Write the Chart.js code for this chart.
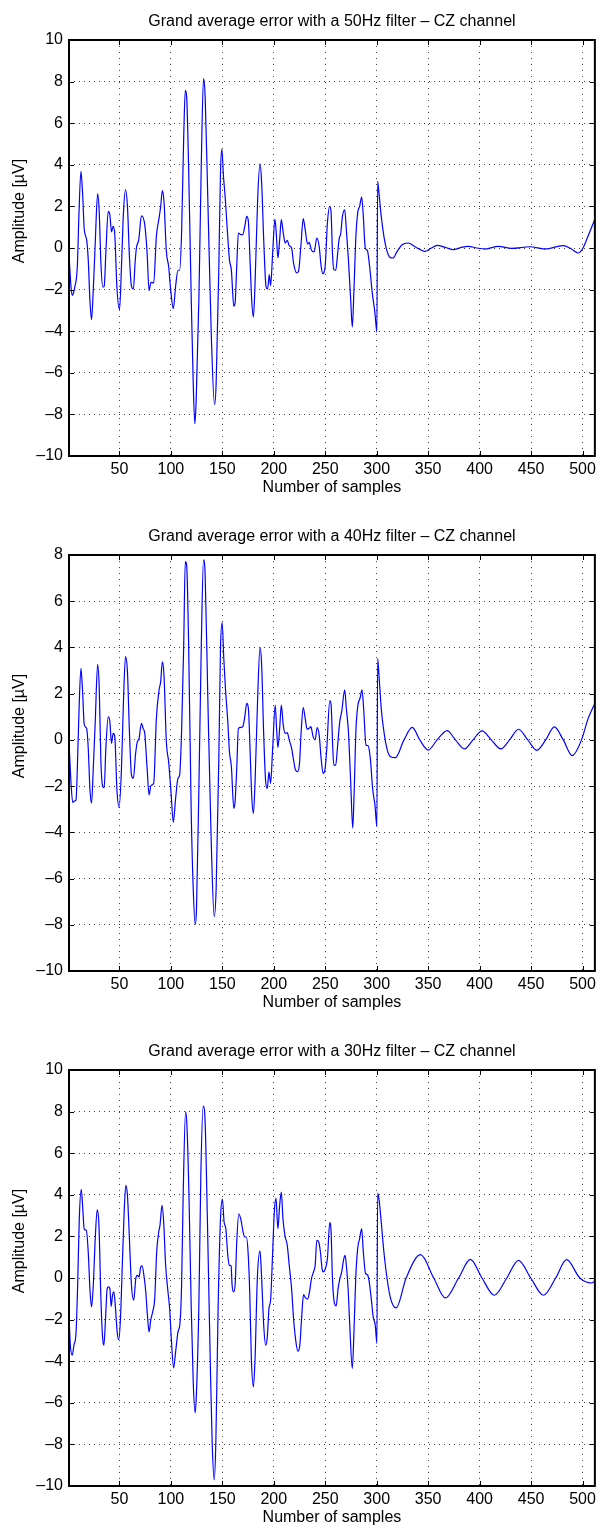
<!DOCTYPE html>
<html><head><meta charset="utf-8">
<script src="https://cdn.jsdelivr.net/npm/chart.js@4.4.1/dist/chart.umd.min.js"></script>
<style>
html,body{margin:0;padding:0;background:#fff;overflow:hidden;}
body{width:600px;height:1528px;position:relative;}
canvas{position:absolute;left:0;}
</style></head><body>
<canvas id="c1" width="600" height="498" style="top:0px"></canvas>
<canvas id="c2" width="600" height="498" style="top:515px"></canvas>
<canvas id="c3" width="600" height="498" style="top:1030px"></canvas>
<script>
// ---- data ----
const xTicks = [50,100,150,200,250,300,350,400,450,500];
const yTicksA = [-10,-8,-6,-4,-2,0,2,4,6,8,10];
const yTicksB = [-10,-8,-6,-4,-2,0,2,4,6,8];
const titles = [
  'Grand average error with a 50Hz filter \u2013 CZ channel',
  'Grand average error with a 40Hz filter \u2013 CZ channel',
  'Grand average error with a 30Hz filter \u2013 CZ channel'
];
const xLabel = 'Number of samples';
const yLabel = 'Amplitude [\u00b5V]';

// [sample, amplitude]
const cz50 = [[1,-0.3],[2.9,-1.84],[4.2,-2.28],[5.8,-2.08],[6.5,-1.92],[9.1,-0.88],[10.7,1.68],[12.6,3.69],[14.2,2.64],[15.8,0.91],[18.1,0.40],[19.7,-0.56],[21.3,-2.48],[22.9,-3.45],[24.6,-2.0],[26.5,0.24],[28.8,2.61],[30.4,1.68],[32.0,-0.72],[33.9,-1.88],[35.2,-1.84],[36.8,-0.24],[39.1,1.76],[40.7,1.6],[42.3,0.77],[43.9,1.04],[45.5,0.64],[47.5,-1.84],[50.1,-2.96],[52.0,-0.88],[53.9,1.68],[55.9,2.80],[57.8,2.0],[59.7,-0.40],[61.7,-1.84],[63.6,-1.97],[65.2,-0.72],[66.5,0.0],[68.8,0.40],[71.4,1.55],[74.6,1.12],[76.9,-0.24],[78.8,-2.05],[80.7,-1.65],[83.3,-1.68],[85.9,0.56],[88.5,1.44],[90.1,2.0],[91.7,2.76],[93.3,2.24],[95.6,-0.16],[97.8,-0.88],[100.1,-2.16],[102.4,-2.92],[104.6,-1.84],[106.9,-1.07],[108.5,-1.07],[110.4,0.72],[112.4,5.21],[114.0,7.58],[115.3,7.29],[117.2,3.93],[119.8,-2.48],[121.7,-6.49],[123.3,-8.45],[124.6,-7.29],[127.2,-2.48],[129.5,3.93],[131.7,8.14],[133.3,7.29],[135.9,2.32],[139.2,-4.09],[142.4,-7.53],[144.0,-6.49],[146.6,-0.88],[148.2,3.61],[149.5,4.76],[151.1,3.45],[152.7,2.48],[154.6,1.04],[156.9,-0.56],[158.8,-1.07],[161.1,-2.80],[162.4,-2.64],[164.0,-0.88],[165.6,0.72],[168.2,0.64],[169.8,0.64],[172.1,1.12],[173.7,1.52],[175.3,1.28],[176.9,-0.56],[178.5,-2.48],[180.2,-3.32],[181.8,-1.68],[184.3,2.32],[186.6,4.04],[188.2,3.13],[190.2,0.40],[192.4,-1.84],[194.0,-1.97],[195.6,-1.28],[196.9,-1.81],[198.9,-0.24],[201.1,1.39],[202.4,0.72],[204.0,-0.48],[205.7,0.40],[207.3,1.36],[209.2,0.72],[211.1,0.24],[213.1,0.37],[215.0,0.11],[217.3,0.0],[219.2,-0.72],[222.1,-1.20],[224.0,-1.12],[226.3,0.08],[228.6,1.41],[230.5,0.88],[232.8,0.19],[234.4,0.27],[236.6,-0.11],[239.2,-0.19],[241.8,0.48],[244.1,0.08],[246.0,-0.88],[247.6,-1.23],[249.9,-0.88],[252.1,1.2],[254.4,2.0],[255.7,1.68],[257.0,-0.24],[258.3,-1.04],[260.2,-1.07],[261.8,-0.4],[263.4,0.4],[265.1,0.72],[266.7,1.52],[268.9,1.84],[270.5,0.88],[272.5,-0.56],[274.7,-2.48],[276.3,-3.80],[277.9,-2.0],[279.6,0.40],[281.5,1.68],[283.4,2.0],[285.4,2.45],[287.0,1.52],[288.9,0.0],[290.9,-0.11],[293.1,-0.88],[295.7,-2.16],[298.3,-3.13],[300.2,-4.05],[300.9,3.21],[302.2,2.64],[304.4,1.52],[307.0,0.56],[309.6,-0.08],[312.5,-0.43],[315.7,-0.48],[319.9,-0.16],[324.7,0.16],[330.6,0.24],[337.6,0.05],[346.7,-0.16],[353.1,0.0],[358.6,0.13],[366.7,0.03],[374.7,-0.08],[382.2,0.03],[389.3,0.08],[397.3,0.0],[405.4,-0.05],[418.3,0.08],[431.2,-0.02],[448.9,0.06],[463.4,-0.05],[481.1,0.11],[489.2,-0.05],[495.6,-0.24],[500.5,0.0],[505.3,0.56],[511.8,1.36]];

const cz40 = [[1,-0.08],[2.9,-1.81],[4.6,-2.70],[6.2,-2.65],[7.8,-2.60],[9.1,-1.23],[10.7,1.22],[12.6,3.10],[14.2,2.09],[15.8,0.67],[18.1,0.50],[19.7,-0.36],[21.3,-2.10],[22.9,-2.74],[24.6,-1.23],[26.5,0.79],[28.8,3.27],[30.4,2.23],[32.0,-0.94],[33.9,-2.03],[35.2,-2.07],[36.8,-0.36],[39.1,1.0],[40.7,0.79],[42.3,-0.15],[43.9,0.28],[45.5,0.14],[47.5,-2.10],[49.7,-2.92],[52.0,-1.23],[53.9,1.65],[55.9,3.60],[57.8,2.95],[59.7,0.36],[61.7,-1.52],[63.6,-1.66],[65.6,-0.65],[67.2,-0.12],[69.1,0.07],[71.4,0.72],[73.0,0.50],[74.6,0.28],[76.9,-1.23],[78.8,-2.38],[80.7,-1.97],[83.3,-1.88],[85.9,0.93],[88.5,2.16],[90.1,2.52],[91.7,3.38],[93.3,2.81],[95.6,-0.08],[97.8,-0.94],[100.1,-2.24],[102.4,-3.57],[104.6,-2.53],[106.9,-1.66],[108.5,-1.52],[110.4,0.36],[112.4,3.96],[114.0,7.71],[115.3,7.57],[117.2,4.25],[119.8,-3.25],[121.7,-6.42],[123.6,-7.98],[124.9,-7.29],[127.2,-2.10],[129.5,3.96],[131.7,7.79],[133.3,7.14],[135.9,1.80],[139.2,-4.40],[142.1,-7.65],[144.0,-6.42],[146.6,-0.80],[148.2,3.96],[149.8,5.08],[151.4,3.53],[153.0,2.23],[155.3,0.79],[156.9,-0.51],[158.8,-1.16],[161.1,-2.96],[162.4,-2.67],[164.0,-1.23],[165.6,0.50],[168.2,0.54],[169.8,0.57],[171.8,1.0],[173.7,1.58],[175.3,1.37],[176.9,-0.36],[178.5,-2.38],[180.2,-3.18],[181.8,-1.81],[184.3,1.80],[186.6,3.99],[188.2,3.24],[190.2,0.21],[192.1,-1.81],[193.7,-2.10],[195.3,-1.38],[196.9,-1.88],[198.9,-0.36],[201.4,1.51],[202.7,0.50],[204.0,-0.34],[205.7,0.50],[207.3,1.51],[209.2,0.64],[211.1,0.28],[213.1,0.31],[215.0,0.0],[217.3,-0.36],[219.2,-0.87],[221.1,-1.30],[223.1,-1.37],[225.0,-1.01],[226.6,0.36],[228.6,1.40],[230.5,0.93],[232.4,0.46],[234.4,0.50],[236.0,0.57],[238.2,0.14],[240.2,0.0],[242.1,0.53],[244.1,0.21],[246.0,-0.80],[247.9,-1.45],[249.9,-1.23],[251.5,-0.36],[254.4,1.70],[255.7,1.51],[257.3,-0.36],[258.3,-1.09],[260.2,-1.09],[261.8,-0.36],[264.1,0.79],[266.0,1.22],[268.9,2.16],[270.5,1.36],[272.5,0.36],[274.7,-1.81],[276.7,-3.82],[277.9,-2.53],[279.9,0.50],[281.8,1.51],[283.8,1.80],[285.7,2.16],[287.3,1.36],[289.6,-0.22],[291.5,-0.25],[293.8,-0.80],[296.0,-2.10],[298.3,-2.82],[300.2,-3.76],[300.9,3.53],[302.2,2.81],[304.4,1.36],[307.0,0.36],[310.3,-0.44],[313.5,-0.73],[318.1,-0.77],[326.5,0],[334.5,0.54],[341.9,0],[350.0,-0.44],[358.7,0],[368.4,0.40],[376.5,0],[385.2,-0.39],[393.6,0],[402.3,0.39],[411.3,0],[420.7,-0.39],[429.1,0],[437.8,0.46],[446.8,0],[455.5,-0.45],[464.2,0],[472.6,0.56],[481.3,0],[490.0,-0.68],[499.0,0],[505.5,0.93],[511.9,1.58]];

const cz30 = [[1,-1.79],[2.3,-3.23],[4.2,-3.71],[5.8,-3.23],[7.8,-2.67],[9.4,-0.35],[11.0,2.85],[12.9,4.26],[14.2,3.49],[15.8,2.34],[17.8,2.29],[19.7,1.25],[21.3,-0.51],[22.9,-1.39],[24.6,-0.35],[26.5,1.89],[28.4,3.28],[30.1,2.53],[32.0,-0.99],[33.6,-2.83],[34.9,-3.23],[36.5,-1.95],[38.1,-0.51],[39.4,-0.43],[40.7,-0.51],[42.0,-1.36],[43.3,-0.83],[44.6,-0.67],[46.2,-1.47],[47.8,-2.59],[49.4,-2.96],[51.0,-1.95],[53.0,0.93],[54.6,3.17],[56.2,4.45],[57.8,3.97],[59.7,1.89],[61.7,-0.35],[63.9,-1.07],[65.9,-0.03],[67.5,0.13],[69.1,0.05],[70.7,0.53],[72.0,0.58],[74.0,0.05],[75.6,-0.67],[77.2,-1.79],[78.8,-2.59],[80.4,-2.03],[82.3,-1.63],[84.3,-0.99],[86.2,1.25],[88.2,2.21],[89.4,2.53],[91.4,3.49],[93.0,2.69],[94.9,0.61],[97.2,-0.67],[98.8,-1.47],[100.4,-2.91],[102.7,-4.32],[104.6,-3.55],[106.9,-2.59],[108.8,-2.19],[110.4,-0.35],[112.0,4.13],[114.3,8.0],[115.6,7.33],[117.5,4.13],[119.8,-1.47],[121.7,-4.99],[123.6,-6.48],[124.9,-5.47],[127.2,-1.31],[129.1,4.93],[131.4,8.26],[133.0,7.81],[135.6,2.53],[138.2,-3.87],[140.1,-7.87],[142.1,-9.71],[143.7,-7.87],[145.9,-1.47],[148.2,2.85],[150.1,3.78],[151.7,2.69],[153.4,2.37],[155.3,1.09],[156.9,0.61],[158.5,0.58],[159.5,-0.35],[160.8,-0.67],[162.4,-0.35],[164.0,1.73],[166.0,3.09],[168.2,2.77],[170.2,2.21],[171.8,1.97],[173.4,1.97],[175.0,1.25],[176.6,-0.67],[178.2,-3.87],[180.2,-5.23],[181.8,-3.87],[184.0,-0.03],[186.6,1.30],[188.2,-0.03],[190.2,-2.27],[192.1,-3.23],[193.7,-2.83],[195.3,-1.47],[196.9,-1.07],[198.9,1.25],[200.5,3.17],[202.1,3.84],[204.0,2.37],[205.7,3.49],[207.3,4.13],[208.9,2.85],[210.8,2.05],[213.1,1.57],[215.0,0.61],[217.3,-0.51],[219.2,-1.95],[221.5,-3.07],[223.4,-3.52],[225.3,-3.23],[227.0,-1.95],[228.9,-0.80],[230.8,-0.96],[232.8,-1.02],[234.7,-0.67],[236.6,-0.03],[238.6,0.29],[240.2,0.61],[241.8,1.81],[243.7,1.73],[245.3,1.25],[246.9,0.45],[248.2,0.29],[249.9,0.42],[252.1,0.93],[254.4,2.66],[255.7,2.21],[257.0,-0.03],[259.0,-1.23],[260.6,-1.34],[262.5,-0.51],[264.1,-0.06],[266.0,0.29],[267.7,0.85],[269.3,1.09],[270.5,0.61],[272.2,-0.51],[273.8,-2.27],[276.3,-4.35],[277.9,-2.59],[279.6,-0.03],[281.5,1.41],[283.4,1.89],[285.4,2.37],[287.0,1.25],[289.2,0.21],[290.9,0.16],[292.5,-0.11],[294.7,-0.99],[296.6,-1.87],[298.6,-2.27],[300.2,-3.15],[300.9,4.08],[302.2,3.81],[304.4,2.69],[307.0,1.25],[310.3,-0.11],[313.5,-0.99],[318.9,-1.44],[328.6,0],[342.6,1.12],[355.4,0],[366.7,-0.96],[379.6,0],[391.0,0.9],[402.3,0],[414.3,-0.83],[426.4,0],[437.8,0.85],[449.7,0],[462.0,-0.83],[473.9,0],[484.5,0.88],[497.4,0],[508.7,-0.24],[511.9,-0.16]];

// ---- rendering ----
Chart.defaults.font.family = "'Liberation Sans', Arial, Helvetica, sans-serif";
Chart.defaults.font.size = 16;
Chart.defaults.color = '#000';

const framePlugin = {
  id: 'frame',
  afterDraw(chart) {
    const {ctx, chartArea: a, scales: {x, y}} = chart;
    const L = 5;
    ctx.save();
    ctx.strokeStyle = '#000';
    ctx.lineWidth = 1;
    ctx.beginPath();
    x.ticks.forEach(t => {
      const px = Math.round(x.getPixelForValue(t.value)) + 0.5;
      ctx.moveTo(px, a.bottom); ctx.lineTo(px, a.bottom - L);
      ctx.moveTo(px, a.top); ctx.lineTo(px, a.top + L);
    });
    y.ticks.forEach(t => {
      const py = Math.round(y.getPixelForValue(t.value)) + 0.5;
      ctx.moveTo(a.left, py); ctx.lineTo(a.left + L, py);
      ctx.moveTo(a.right, py); ctx.lineTo(a.right - L, py);
    });
    ctx.stroke();
    ctx.lineWidth = 2;
    ctx.strokeRect(a.left, a.top, a.right - a.left, a.bottom - a.top);
    // y-axis label
    ctx.fillStyle = '#000';
    ctx.font = "16px 'Liberation Sans', Arial, sans-serif";
    ctx.textAlign = 'center';
    ctx.textBaseline = 'middle';
    ctx.translate(20, (a.top + a.bottom) / 2 - 37);
    ctx.rotate(-Math.PI / 2);
    ctx.fillText(yLabel, 0, 0);
    ctx.restore();
  }
};

function fmt(v) { return v < 0 ? '\u2013' + Math.abs(v) : String(v); }

function makeChart(id, title, series, yTicks) {
  const ymin = yTicks[0], ymax = yTicks[yTicks.length - 1];
  return new Chart(document.getElementById(id), {
    type: 'line',
    data: {
      datasets: [{
        data: series.map(([s, a]) => ({x: s, y: a})),
        borderColor: '#0000ff',
        borderWidth: 1.2,
        pointRadius: 0,
        fill: false,
        cubicInterpolationMode: 'monotone'
      }]
    },
    options: {
      responsive: false,
      animation: false,
      devicePixelRatio: 1,
      layout: {padding: {left: 0, right: 3, top: 0, bottom: 0}},
      plugins: {
        legend: {display: false},
        tooltip: {enabled: false},
        title: {
          display: true, text: title, fullSize: false,
          font: {size: 16, weight: 'normal'}, color: '#000',
          padding: {top: 12, bottom: 8.8}
        }
      },
      scales: {
        x: {
          type: 'linear', min: 1, max: 512,
          afterBuildTicks: s => { s.ticks = xTicks.map(v => ({value: v})); },
          afterFit: s => { s.height = 42; },
          ticks: {padding: 4, maxRotation: 0, autoSkip: false, color: '#000'},
          grid: {color: 'rgba(0,0,0,0.75)', lineWidth: 1, drawTicks: false},
          border: {display: false, dash: [1, 5]},
          title: {display: true, text: xLabel, color: '#000', padding: {top: 0, bottom: 1}}
        },
        y: {
          type: 'linear', min: ymin, max: ymax,
          afterBuildTicks: s => { s.ticks = yTicks.map(v => ({value: v})); },
          afterFit: s => { s.width = 69; },
          ticks: {padding: 6, color: '#000', callback: fmt},
          grid: {color: 'rgba(0,0,0,0.75)', lineWidth: 1, drawTicks: false},
          border: {display: false, dash: [1, 4]}
        }
      }
    },
    plugins: [framePlugin]
  });
}

makeChart('c1', titles[0], cz50, yTicksA);
makeChart('c2', titles[1], cz40, yTicksB);
makeChart('c3', titles[2], cz30, yTicksA);
</script>
</body></html>
